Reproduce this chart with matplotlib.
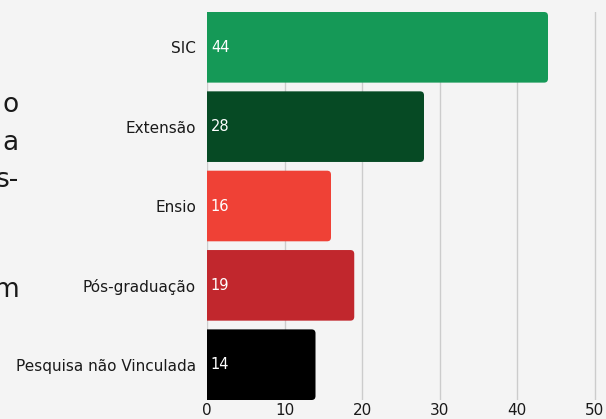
import matplotlib.pyplot as plt
from matplotlib.patches import FancyBboxPatch

categories = ['SIC', 'Extensão', 'Ensio', 'Pós-graduação', 'Pesquisa não Vinculada']
values = [44, 28, 16, 19, 14]
colors = ['#159957', '#064a24', '#ef4136', '#c1272d', '#000000']
xticks = [0, 10, 20, 30, 40, 50]
# fragments of a title that runs off the left edge
title_bits = [('o', 105), ('a', 143), ('s-', 180), ('m', 290)]

plt.rcParams['font.family'] = ['DejaVu Sans']
W, H = 606, 419
fig = plt.figure(figsize=(W / 100, H / 100), dpi=100, facecolor='#f4f4f4')
ax = fig.add_axes([207 / W, 1 - 400 / H, (W - 207) / W, 388 / H])
ax.set_facecolor('#f4f4f4')

h = 0.89
y = list(range(len(categories)))
bars = ax.barh(y, values, height=h, color='none')
for b, c, v in zip(bars, colors, values):
    x0, y0 = b.get_x(), b.get_y()
    patch = FancyBboxPatch((x0 - 2, y0), b.get_width() + 2, b.get_height(),
                           boxstyle='round,pad=0,rounding_size=0.5',
                           mutation_aspect=0.1, facecolor=c, edgecolor='none',
                           zorder=3)
    ax.add_patch(patch)
    ax.text(0.5, b.get_y() + b.get_height() / 2, str(v), color='white',
            va='center', ha='left', fontsize=10.5, zorder=4)

ax.set_xlim(0, (W - 207) / 7.75)
ax.set_ylim(len(categories) - 1 + h / 2, -h / 2)
ax.set_yticks(y)
ax.set_yticklabels(categories, fontsize=11, color='#1a1a1a')
ax.set_xticks(xticks)
ax.set_xticklabels([str(t) for t in xticks], fontsize=11, color='#1a1a1a')
ax.tick_params(length=0, pad=2)
ax.tick_params(axis='y', pad=8)
ax.grid(axis='x', color='#cccccc', linewidth=1, zorder=0)
ax.set_axisbelow(True)
for s in ax.spines.values():
    s.set_visible(False)

for txt, py in title_bits:
    fig.text(19 / W, 1 - py / H, txt, ha='right', va='center', fontsize=19,
             color='#1a1a1a')

fig.savefig('out.png', dpi=100, facecolor=fig.get_facecolor())
